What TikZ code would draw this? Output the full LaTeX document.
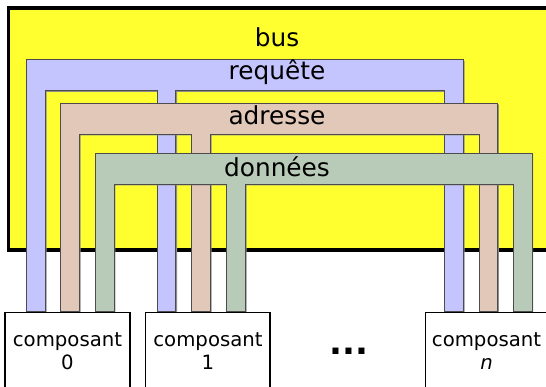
\documentclass[tikz,border=0pt]{standalone}
\usepackage{fontspec}
\setmainfont{DejaVu Sans}
\definecolor{busyellow}{RGB}{255,255,48}
\definecolor{reqblue}{RGB}{196,196,255}
\definecolor{adrbeige}{RGB}{226,200,184}
\definecolor{dongreen}{RGB}{184,203,184}
\def\legw{18.6}
\def\barh{30.8}
\def\legend{311.7}
% outline of one bus: #1 left leg, #2 top, #3 middle leg, #4 right leg
\newcommand\buspath[4]{(#1,\legend) -- (#1,#2) -- ({#4+\legw},#2) -- ({#4+\legw},\legend)
  -- (#4,\legend) -- (#4,{#2+\barh}) -- ({#3+\legw},{#2+\barh}) -- ({#3+\legw},\legend)
  -- (#3,\legend) -- (#3,{#2+\barh}) -- ({#1+\legw},{#2+\barh}) -- ({#1+\legw},\legend) -- cycle}
\begin{document}
\begin{tikzpicture}[x=1pt,y=-1pt,
  busframe/.style={draw=black,line width=3.5pt,fill=busyellow},
  busline/.style={draw=black!70,line width=1pt},
  busshadow/.style={fill=black!45,xshift=1.2pt,yshift=-1.2pt},
  buslabel/.style={anchor=base,font=\fontsize{24.8}{25}\selectfont,inner sep=0pt},
  unit/.style={draw=black,line width=1.3pt,fill=white},
  unitlabel/.style={align=center,font=\fontsize{19.7}{23.5}\selectfont,inner sep=0pt}]
\useasboundingbox (0,0) rectangle (546,387);
% the shared bus area
\path[busframe] (8.5,7.8) rectangle (549,250);
\node[buslabel] (bus) at (277,46.7) {bus};
% request lines
\fill[busshadow] \buspath{26.7}{60}{157.3}{444.7};
\path[busline,fill=reqblue] \buspath{26.7}{60}{157.3}{444.7};
\node[buslabel] (req) at (277,80) {requête};
% address lines
\fill[busshadow] \buspath{60.9}{103.3}{191.8}{479.1};
\path[busline,fill=adrbeige] \buspath{60.9}{103.3}{191.8}{479.1};
\node[buslabel] (adr) at (277,125) {adresse};
% data lines
\fill[busshadow] \buspath{95.5}{153.3}{226.7}{513.4};
\path[busline,fill=dongreen] \buspath{95.5}{153.3}{226.7}{513.4};
\node[buslabel] (don) at (277,176.7) {données};
% components
\path[unit] (5,312.4) rectangle (130,395);
\path[unit] (145.7,312.4) rectangle (270,395);
\path[unit] (425.3,312.4) rectangle (549,395);
\node[unitlabel] (c0) at (67.5,351) {composant\\0};
\node[unitlabel] (c1) at (208,351) {composant\\1};
\node[unitlabel] (cn) at (486.5,351) {composant\\\textit{n}};
\node[font=\fontsize{34}{34}\selectfont\bfseries,inner sep=0pt,anchor=base] (dots) at (349,354) {...};
\end{tikzpicture}
\end{document}
